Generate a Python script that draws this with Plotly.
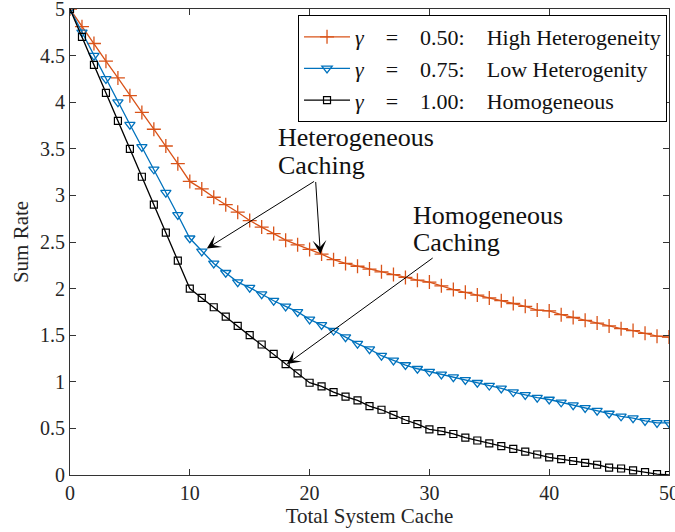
import plotly.graph_objects as go

cache = list(range(51))

rate_g050 = [5.00, 4.81, 4.63, 4.44, 4.26, 4.07, 3.89, 3.71, 3.53, 3.34,
             3.15, 3.07, 2.98, 2.90, 2.82, 2.73, 2.66, 2.59, 2.52, 2.47,
             2.42, 2.37, 2.31, 2.27, 2.24, 2.21, 2.18, 2.15, 2.12, 2.09,
             2.07, 2.03, 1.99, 1.96, 1.93, 1.90, 1.87, 1.84, 1.81, 1.77,
             1.76, 1.72, 1.69, 1.66, 1.63, 1.60, 1.57, 1.55, 1.52, 1.49,
             1.48]

rate_g075 = [5.00, 4.75, 4.50, 4.25, 4.00, 3.76, 3.52, 3.28, 3.03, 2.79,
             2.54, 2.40, 2.27, 2.17, 2.07, 2.01, 1.94, 1.87, 1.81, 1.75,
             1.67, 1.61, 1.55, 1.48, 1.41, 1.35, 1.28, 1.23, 1.18, 1.14,
             1.11, 1.08, 1.05, 1.02, 0.99, 0.96, 0.93, 0.89, 0.86, 0.83,
             0.81, 0.78, 0.75, 0.72, 0.69, 0.66, 0.63, 0.61, 0.58, 0.56,
             0.56]

rate_g100 = [5.00, 4.70, 4.40, 4.10, 3.80, 3.50, 3.20, 2.90, 2.60, 2.30,
             2.00, 1.90, 1.80, 1.70, 1.60, 1.50, 1.40, 1.30, 1.19, 1.09,
             0.99, 0.95, 0.89, 0.84, 0.80, 0.74, 0.70, 0.645, 0.59, 0.545,
             0.49, 0.47, 0.44, 0.40, 0.37, 0.34, 0.31, 0.28, 0.25, 0.22,
             0.19, 0.17, 0.15, 0.13, 0.11, 0.08, 0.07, 0.05, 0.03, 0.01,
             0.00]

NB = "\u00a0"
G = NB * 4
series_names = ["<i>γ</i>" + G + "=" + G + "0.50:" + G + "High Heterogeneity",
                "<i>γ</i>" + G + "=" + G + "0.75:" + G + "Low Heterogenity",
                "<i>γ</i>" + G + "=" + G + "1.00:" + G + "Homogeneous"]

x_ticks = [0, 10, 20, 30, 40, 50]
y_ticks = [0, 0.5, 1, 1.5, 2, 2.5, 3, 3.5, 4, 4.5, 5]
y_tick_labels = ["0", "0.5", "1", "1.5", "2", "2.5", "3", "3.5", "4", "4.5", "5"]

FONT = "Liberation Serif"
AX = "#333333"

fig = go.Figure()
fig.add_trace(go.Scatter(
    x=cache, y=rate_g050, mode="lines+markers", name=series_names[0],
    line=dict(color="#D95319", width=1.3),
    marker=dict(symbol="cross-thin-open", size=10, color="#D95319",
                line=dict(color="#D95319", width=1.3))))
fig.add_trace(go.Scatter(
    x=cache, y=rate_g075, mode="lines+markers", name=series_names[1],
    line=dict(color="#0072BD", width=1.3),
    marker=dict(symbol="triangle-down-open", size=9, color="#0072BD",
                line=dict(color="#0072BD", width=1.3))))
fig.add_trace(go.Scatter(
    x=cache, y=rate_g100, mode="lines+markers", name=series_names[2],
    line=dict(color="#000000", width=1.3),
    marker=dict(symbol="square-open", size=7, color="#000000",
                line=dict(color="#000000", width=1.2))))

# text labels
texts = [("Heterogeneous", 17.2, 3.62), ("Caching", 17.2, 3.32),
         ("Homogeneous", 28.5, 2.785), ("Caching", 28.5, 2.495)]
for t, tx, ty in texts:
    fig.add_annotation(x=tx, y=ty, text=t, showarrow=False,
                       xanchor="left", yanchor="middle",
                       font=dict(family=FONT, size=26, color="#111111"))

# arrows: (head_x, head_y, tail_x, tail_y)
arrows = [(11.42, 2.43, 20.5, 3.16),
          (20.9, 2.37, 20.5, 3.16),
          (18.1, 1.19, 30.4, 2.34)]
for hx, hy, tx, ty in arrows:
    fig.add_annotation(x=hx, y=hy, ax=tx, ay=ty, axref="x", ayref="y",
                       text="", showarrow=True, arrowhead=3, arrowsize=2.3,
                       arrowwidth=1, arrowcolor="#000000", standoff=0,
                       startstandoff=0)

fig.update_layout(
    width=675, height=532,
    margin=dict(l=70, r=6, t=9, b=57, autoexpand=False),
    plot_bgcolor="white", paper_bgcolor="white",
    font=dict(family=FONT, size=19, color="#262626"),
    showlegend=True,
    legend=dict(x=0.9967, y=0.987, xanchor="right", yanchor="top",
                bgcolor="white", bordercolor="#000000", borderwidth=1,
                font=dict(family=FONT, size=22, color="#111111"),
                itemwidth=46, tracegroupgap=0),
    xaxis=dict(range=[0, 50], tickvals=x_ticks, ticks="inside", ticklen=6,
               tickcolor=AX, showline=True, linecolor=AX, linewidth=1,
               mirror="ticks", showgrid=False, zeroline=False, automargin=False,
               ticklabeloverflow="allow",
               tickfont=dict(family=FONT, size=20, color="#262626"),
               title=dict(text="Total System Cache", standoff=3,
                          font=dict(family=FONT, size=21, color="#262626"))),
    yaxis=dict(range=[0, 5], tickvals=y_ticks, ticktext=y_tick_labels,
               ticks="inside", ticklen=6, tickcolor=AX, showline=True,
               linecolor=AX, linewidth=1, mirror="ticks", showgrid=False,
               zeroline=False, automargin=False, ticklabeloverflow="allow",
               tickfont=dict(family=FONT, size=20, color="#262626"),
               title=dict(text="Sum Rate", standoff=5,
                          font=dict(family=FONT, size=21, color="#262626"))),
)

fig.write_html("out.html", config={"displayModeBar": False},
               post_script="document.body.style.margin='0px';document.body.style.overflow='hidden';")
